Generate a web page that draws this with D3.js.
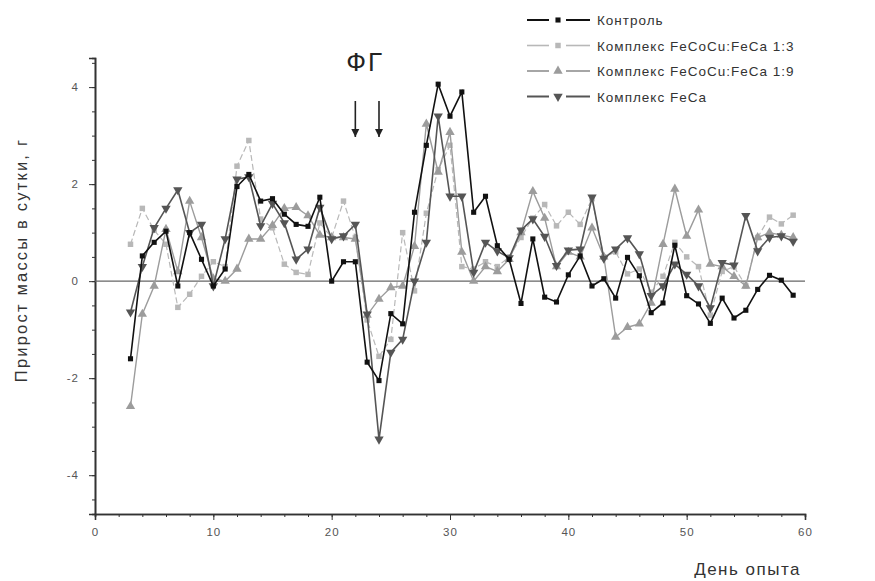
<!DOCTYPE html>
<html>
<head>
<meta charset="utf-8">
<script src="https://cdn.jsdelivr.net/npm/d3@7"></script>
<style>
  html, body { margin: 0; padding: 0; background: #fff; }
  svg { display: block; font-family: "Liberation Sans", Arial, sans-serif; }
</style>
</head>
<body>
<svg id="chart" width="875" height="581"></svg>
<script>
// Days of the experiment
const days = d3.range(3, 60);

// Daily weight gain, g
const control = [-1.6, 0.52, 0.8, 1.03, -0.1, 1.0, 0.45, -0.1, 0.25, 1.95, 2.2, 1.65, 1.7, 1.38, 1.17, 1.13, 1.73, 0.0, 0.4, 0.4,
  -1.67, -2.05, -0.67, -0.88, 1.42, 2.8, 4.06, 3.4, 3.9, 1.42, 1.75, 0.73, 0.45, -0.46, 0.87, -0.33, -0.43, 0.13, 0.52, -0.1,
  0.05, -0.35, 0.49, 0.11, -0.65, -0.45, 0.74, -0.3, -0.47, -0.87, -0.35, -0.76, -0.6, -0.17, 0.12, 0.02, -0.29];
const complex13 = [0.76, 1.5, 1.05, 0.76, -0.54, -0.27, 0.1, 0.4, 0.3, 2.37, 2.9, 1.28, 1.1, 0.35, 0.18, 0.14, 1.2, 0.9, 1.65, 0.9,
  -0.8, -1.55, -1.2, 1.0, -0.2, 1.4, 2.3, 2.8, 0.3, 0.25, 0.4, 0.3, 0.5, 0.9, 1.3, 1.58, 1.14, 1.42, 1.17, 1.7,
  0.5, 0.6, 0.15, 0.25, -0.23, 0.1, 0.8, 0.5, 0.3, -0.7, 0.2, 0.3, -0.1, 0.9, 1.32, 1.18, 1.36];
const complex19 = [-2.58, -0.68, -0.1, 1.07, 0.2, 1.65, 0.9, 0.05, 0.0, 0.25, 0.87, 0.87, 1.15, 1.5, 1.52, 1.35, 0.95, 0.9, 0.9, 0.87,
  -0.7, -0.37, -0.13, -0.1, 0.72, 3.24, 2.25, 3.07, 0.6, 0.0, 0.3, 0.2, 0.45, 1.0, 1.85, 1.3, 0.3, 0.6, 0.5, 1.1,
  0.5, -1.15, -0.95, -0.88, -0.45, 0.76, 1.9, 0.93, 1.47, 0.35, 0.3, 0.1, -0.1, 0.9, 1.0, 0.95, 0.9];
const feca = [-0.64, 0.3, 1.1, 1.5, 1.88, 1.0, 1.17, -0.1, 0.87, 2.1, 2.15, 1.14, 1.6, 1.2, 0.45, 0.66, 1.52, 0.87, 0.93, 1.17,
  -0.68, -3.26, -1.47, -1.2, 0.0, 0.8, 3.4, 1.75, 1.75, 0.18, 0.8, 0.62, 0.48, 1.05, 1.28, 0.92, 0.32, 0.64, 0.66, 1.73,
  0.47, 0.66, 0.89, 0.56, -0.3, -0.1, 0.35, 0.14, -0.1, -0.55, 0.38, 0.33, 1.35, 0.62, 0.9, 0.93, 0.82];

const seriesNames = ["Контроль", "Комплекс FeCoCu:FeCa 1:3", "Комплекс FeCoCu:FeCa 1:9", "Комплекс FeCa"];
const xTicks = [0, 10, 20, 30, 40, 50, 60];
const yTicks = [-4, -2, 0, 2, 4];
const markDays = [22, 24];
const markLabel = "ФГ";

const series = [
  { name: seriesNames[1], values: complex13, color: "#b8b8b8", width: 1.2, dash: "6,3", symbol: d3.symbolSquare, size: 30 },
  { name: seriesNames[2], values: complex19, color: "#9c9c9c", width: 1.4, dash: null, symbol: d3.symbolTriangle, size: 38 },
  { name: seriesNames[3], values: feca, color: "#555555", width: 1.6, dash: null, symbol: d3.symbolTriangle, size: 38, flip: true },
  { name: seriesNames[0], values: control, color: "#111111", width: 1.6, dash: null, symbol: d3.symbolSquare, size: 26 }
];

const svg = d3.select("#chart");
const x = d3.scaleLinear().domain([0, 60]).range([95, 805]);
const y = d3.scaleLinear().domain([-4.8, 4.6]).range([514, 58]);

// Axes (plain hyphen for negatives)
const fmt = d => String(d);
const xAxis = d3.axisBottom(x).tickValues(xTicks).tickSize(6).tickPadding(8).tickFormat(fmt);
const xMinor = d3.axisBottom(x).tickValues(d3.range(0, 61, 2)).tickSize(3).tickFormat("");
const yAxis = d3.axisLeft(y).tickValues(yTicks).tickSize(6).tickPadding(10).tickFormat(fmt);
const yMinor = d3.axisLeft(y).tickValues(d3.range(-4.5, 4.51, 0.5)).tickSize(3).tickFormat("");

function styleAxis(g) {
  g.select(".domain").attr("stroke", "#333").attr("stroke-width", 1.6);
  g.selectAll(".tick line").attr("stroke", "#333").attr("stroke-width", 1);
  g.selectAll(".tick text").attr("fill", "#555").attr("font-size", 11.5).attr("letter-spacing", 1);
}

svg.append("g").attr("transform", "translate(0,514)").call(xMinor).call(styleAxis);
svg.append("g").attr("transform", "translate(0,514)").call(xAxis).call(styleAxis);
svg.append("g").attr("transform", "translate(95,0)").call(yMinor).call(styleAxis);
svg.append("g").attr("transform", "translate(95,0)").call(yAxis).call(styleAxis);

// Zero reference line
svg.append("line")
  .attr("x1", x(0)).attr("x2", x(60))
  .attr("y1", y(0)).attr("y2", y(0))
  .attr("stroke", "#666").attr("stroke-width", 1.3);

// Axis titles
svg.append("text")
  .attr("x", 801).attr("y", 575)
  .attr("text-anchor", "end")
  .attr("font-size", 17).attr("letter-spacing", 1.5).attr("fill", "#333")
  .text("День опыта");

svg.append("text")
  .attr("transform", "translate(27,260) rotate(-90)")
  .attr("text-anchor", "middle")
  .attr("font-size", 16.5).attr("letter-spacing", 2.2).attr("fill", "#333")
  .text("Прирост массы в сутки, г");

// Series lines and markers
const line = d3.line().x((d, i) => x(days[i])).y(d => y(d));

series.forEach(s => {
  svg.append("path")
    .datum(s.values)
    .attr("fill", "none")
    .attr("stroke", s.color)
    .attr("stroke-width", s.width)
    .attr("stroke-dasharray", s.dash)
    .attr("d", line);

  const sym = d3.symbol().type(s.symbol).size(s.size);
  svg.append("g").selectAll("path")
    .data(s.values)
    .join("path")
    .attr("d", sym)
    .attr("fill", s.color)
    .attr("transform", (d, i) => `translate(${x(days[i])},${y(d)})` + (s.flip ? " rotate(180)" : ""));
});

// Annotation arrows
const defs = svg.append("defs");
defs.append("marker")
  .attr("id", "arrow")
  .attr("viewBox", "0 0 10 10")
  .attr("refX", 10).attr("refY", 5)
  .attr("markerWidth", 5).attr("markerHeight", 6)
  .attr("orient", "auto")
  .append("path").attr("d", "M0,0 L10,5 L0,10 Z").attr("fill", "#222");

markDays.forEach(dd => {
  svg.append("line")
    .attr("x1", x(dd)).attr("x2", x(dd))
    .attr("y1", 101).attr("y2", 137)
    .attr("stroke", "#222").attr("stroke-width", 1.6)
    .attr("marker-end", "url(#arrow)");
});

svg.append("text")
  .attr("x", (x(markDays[0]) + x(markDays[1])) / 2 - 2)
  .attr("y", 71)
  .attr("text-anchor", "middle")
  .attr("font-size", 26).attr("letter-spacing", 2).attr("fill", "#222")
  .text(markLabel);

// Legend: line — symbol — line
const legendOrder = [series[3], series[0], series[1], series[2]];
const legend = svg.append("g");
legendOrder.forEach((s, i) => {
  const ly = 20 + i * 25.5;
  [[527, 549], [566, 590]].forEach(([a, b]) => {
    legend.append("line")
      .attr("x1", a).attr("x2", b)
      .attr("y1", ly).attr("y2", ly)
      .attr("stroke", s.color).attr("stroke-width", s.width + 0.4);
  });
  legend.append("path")
    .attr("d", d3.symbol().type(s.symbol).size(s.size)())
    .attr("fill", s.color)
    .attr("transform", `translate(558,${ly})` + (s.flip ? " rotate(180)" : ""));
  legend.append("text")
    .attr("x", 597).attr("y", ly + 5)
    .attr("font-size", 13.5).attr("letter-spacing", 1).attr("fill", "#333")
    .text(s.name);
});
</script>
</body>
</html>
